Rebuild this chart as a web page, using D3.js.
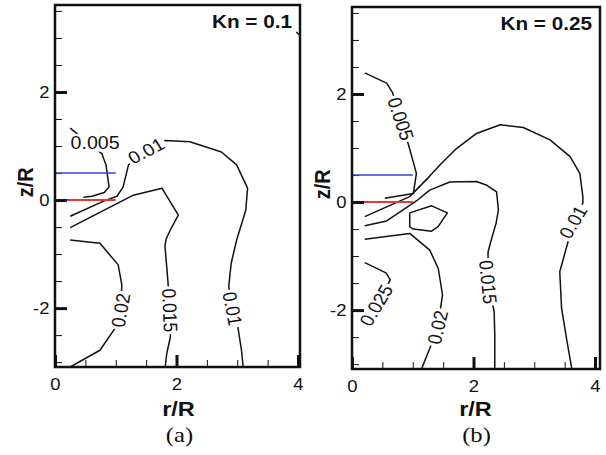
<!DOCTYPE html>
<html>
<head>
<meta charset="utf-8">
<script src="https://cdn.jsdelivr.net/npm/d3@7"></script>
<style>
  body { margin: 0; background: #fff; }
  text { font-family: "Liberation Sans", Arial, Helvetica, sans-serif; fill: #111; }
</style>
</head>
<body>
<svg id="chart" width="606" height="455"></svg>
<script>
// axis ticks (both panels)
const xTicks = [0, 2, 4];
const xMinor = [0.5, 1, 1.5, 2.5, 3, 3.5];
const yTicks = [-2, 0, 2];
const yMinor = [-3, -2.5, -1.5, -1, -0.5, 0.5, 1, 1.5, 2.5, 3, 3.5];
const zRange = [-3.09, 3.61];
const titles = ['Kn = 0.1', 'Kn = 0.25'];
const captions = ['(a)', '(b)'];

// marker segments [r/R, z/R]
const redSeg = [[0, 0], [1, 0]];
const blueSeg = [[0, 0.5], [1, 0.5]];

// panel (a) contour lines, points as [r/R, z/R]
const a005 = [[0.25, 1.33], [0.77, 0.86], [0.84, 0.65], [0.89, 0.24], [0.81, 0.14], [0.61, 0.07], [0.47, 0.05]];
const a010 = [[0.25, -0.30], [0.82, -0.01], [1.02, 0.07], [1.12, 0.24], [1.21, 0.65], [1.50, 0.91], [1.81, 1.10],
  [2.22, 1.08], [2.74, 0.89], [2.99, 0.65], [3.17, 0.22], [3.14, -0.19], [2.99, -0.74], [2.90, -1.17],
  [2.86, -1.60], [2.92, -2.01], [3.01, -2.35], [3.07, -2.78], [3.10, -3.12]];
const a015 = [[0.25, -0.51], [1.29, 0.09], [1.76, 0.22], [2.03, -0.28], [1.90, -0.55], [1.83, -0.72], [1.81, -0.85],
  [1.86, -1.52], [1.89, -2.04], [1.90, -2.53], [1.84, -2.84], [1.81, -3.12]];
const a020 = [[0.25, -0.74], [0.74, -0.80], [1.04, -1.20], [1.10, -1.57], [1.08, -2.04], [0.99, -2.37],
  [0.74, -2.78], [0.25, -3.09]];
const aEdge = [[3.97, 3.11], [4.04, 3.04]];
const aLabels = [['0.005', 0.66, 1.06, 0], ['0.01', 1.50, 0.91, -30], ['0.015', 1.89, -2.04, 88],
  ['0.02', 1.08, -2.04, -81], ['0.01', 2.92, -2.01, 80]];

// panel (b) contour lines
const b005 = [[0.21, 2.39], [0.57, 2.20], [0.67, 2.02], [0.80, 1.54], [0.93, 1.06], [1.06, 0.53], [1.01, 0.16], [0.54, 0.07]];
const b010 = [[0.21, -0.27], [0.95, 0.10], [1.28, 0.48], [1.45, 0.69], [1.72, 0.99], [2.05, 1.27], [2.44, 1.43],
  [2.82, 1.38], [3.26, 1.15], [3.59, 0.84], [3.75, 0.53], [3.80, 0.10], [3.80, -0.02], [3.64, -0.37],
  [3.56, -0.72], [3.42, -1.29], [3.45, -1.97], [3.53, -2.52], [3.62, -3.10]];
const b015 = [[0.21, -0.44], [0.57, -0.35], [1.06, 0.02], [1.28, 0.22], [1.61, 0.37], [2.05, 0.38], [2.22, 0.31],
  [2.38, 0.19], [2.41, -0.15], [2.37, -0.40], [2.30, -0.67], [2.24, -0.92], [2.24, -1.48], [2.34, -2.03],
  [2.35, -2.46], [2.35, -3.10]];
const bIsland = [[0.95, -0.20], [1.31, -0.07], [1.57, -0.20], [1.42, -0.45], [1.31, -0.54], [1.01, -0.50],
  [0.95, -0.46], [0.95, -0.20]];
const b020 = [[0.21, -0.69], [0.95, -0.58], [1.28, -0.89], [1.42, -1.23], [1.49, -1.72], [1.41, -2.32],
  [1.28, -2.71], [1.14, -3.10]];
const b025 = [[0.21, -1.12], [0.56, -1.31], [0.63, -1.44], [0.40, -1.91], [0.21, -2.30]];
const bLabels = [['0.005', 0.80, 1.54, 73], ['0.01', 3.64, -0.37, -62], ['0.015', 2.24, -1.48, 85],
  ['0.02', 1.41, -2.32, -78], ['0.025', 0.40, -1.91, -62]];

const stretch = 'scale(1.12,1)';   // the figure is a bit wider than tall
const pxPerUnit = 60.75;

const panels = [
  { left: 55, top: 5, width: 245, height: 362, lines: [a005, a010, a015, a020, aEdge], labels: aLabels },
  { left: 352, top: 7, width: 248, height: 362, lines: [b005, b010, b015, bIsland, b020, b025], labels: bLabels }
];

const svg = d3.select('#chart');

panels.forEach((p, i) => {
  const x = d3.scaleLinear().domain([0, p.width / pxPerUnit]).range([p.left, p.left + p.width]);
  const y = d3.scaleLinear().domain(zRange).range([p.top + p.height, p.top]);
  const line = d3.line().x(d => x(d[0])).y(d => y(d[1]));

  svg.append('clipPath').attr('id', 'clip' + i)
    .append('rect').attr('x', p.left).attr('y', p.top).attr('width', p.width).attr('height', p.height);

  const plot = svg.append('g').attr('clip-path', `url(#clip${i})`);
  plot.selectAll('path.contour').data(p.lines).enter().append('path')
    .attr('class', 'contour')
    .attr('d', line)
    .attr('fill', 'none')
    .attr('stroke', '#111')
    .attr('stroke-width', 1.5)
    .attr('stroke-linejoin', 'round');

  // contour labels, each cut out of its line with a white box
  p.labels.forEach(l => {
    const g = plot.append('g')
      .attr('transform', `translate(${x(l[1])},${y(l[2])}) ${stretch} rotate(${l[3]})`);
    const rect = g.append('rect').attr('fill', '#fff');
    const t = g.append('text')
      .attr('text-anchor', 'middle')
      .attr('dominant-baseline', 'central')
      .attr('font-size', 17.5)
      .text(l[0]);
    const bb = t.node().getBBox();
    rect.attr('x', bb.x - 2).attr('y', bb.y + 1).attr('width', bb.width + 4).attr('height', bb.height - 2);
  });

  svg.append('path').attr('d', line(redSeg))
    .attr('stroke', '#e23a3a').attr('stroke-width', 2).attr('fill', 'none');

  // axes with inward ticks
  const fmt = d => String(d);
  const xAxis = svg.append('g').attr('transform', `translate(0,${p.top + p.height})`)
    .call(d3.axisBottom(x).tickValues(xTicks).tickFormat(fmt).tickSizeInner(-12).tickSizeOuter(0).tickPadding(11));
  svg.append('g').attr('transform', `translate(0,${p.top + p.height})`)
    .call(d3.axisBottom(x).tickValues(xMinor).tickSizeInner(-7).tickSizeOuter(0).tickFormat(''));
  const yAxis = svg.append('g').attr('transform', `translate(${p.left},0)`)
    .call(d3.axisLeft(y).tickValues(yTicks).tickFormat(fmt).tickSizeInner(-12).tickSizeOuter(0).tickPadding(5));
  svg.append('g').attr('transform', `translate(${p.left},0)`)
    .call(d3.axisLeft(y).tickValues(yMinor).tickSizeInner(-7).tickSizeOuter(0).tickFormat(''));

  svg.selectAll('.domain').remove();
  svg.selectAll('.tick line').attr('stroke', '#111');
  xAxis.selectAll('.tick line').attr('stroke-width', 3);
  yAxis.selectAll('.tick line').attr('stroke-width', 3);
  svg.selectAll('.tick text').attr('font-size', 16.5).attr('font-family', '"Liberation Sans", Arial, sans-serif')
    .attr('fill', '#111').attr('transform', stretch);

  svg.append('path').attr('d', line(blueSeg))
    .attr('stroke', '#3344dd').attr('stroke-width', 1.5).attr('fill', 'none');

  svg.append('rect')
    .attr('x', p.left).attr('y', p.top).attr('width', p.width).attr('height', p.height)
    .attr('fill', 'none').attr('stroke', '#111').attr('stroke-width', 2.5);

  // titles
  svg.append('text')
    .attr('transform', `translate(${p.left + p.width - 8},${p.top + 23}) ${stretch}`)
    .attr('text-anchor', 'end').attr('font-size', 18.5).attr('font-weight', 'bold')
    .text(titles[i]);
  svg.append('text')
    .attr('transform', `translate(${p.left - 22},${y(0.33)}) ${stretch} rotate(-90)`)
    .attr('text-anchor', 'middle').attr('font-size', 20).attr('font-weight', 'bold')
    .text('z/R');
  svg.append('text')
    .attr('transform', `translate(${x(2) + 2},416) ${stretch}`)
    .attr('text-anchor', 'middle').attr('font-size', 21).attr('font-weight', 'bold')
    .text('r/R');
  svg.append('text')
    .attr('transform', `translate(${x(2) + 3},442) ${stretch}`)
    .attr('text-anchor', 'middle').attr('font-size', 22)
    .style('font-family', '"Liberation Serif", "Times New Roman", serif')
    .text(captions[i]);
});
</script>
</body>
</html>
